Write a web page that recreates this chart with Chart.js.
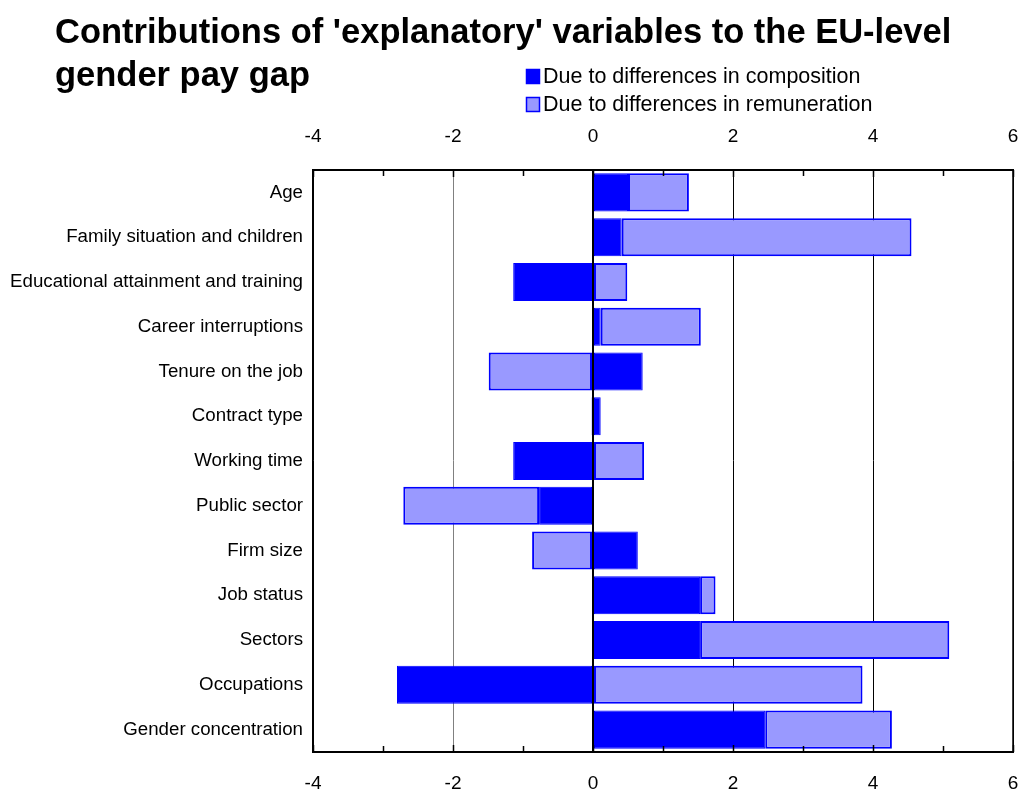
<!DOCTYPE html>
<html>
<head>
<meta charset="utf-8">
<script src="https://cdn.jsdelivr.net/npm/chart.js@4.4.1/dist/chart.umd.min.js"></script>
<style>
  html, body { margin: 0; padding: 0; background: #fff; }
  #wrap { width: 1021px; height: 794px; position: relative; }
</style>
</head>
<body>
<div id="wrap"><canvas id="chart" width="1021" height="794"></canvas></div>
<script>
// data
const categories = [
  'Age',
  'Family situation and children',
  'Educational attainment and training',
  'Career interruptions',
  'Tenure on the job',
  'Contract type',
  'Working time',
  'Public sector',
  'Firm size',
  'Job status',
  'Sectors',
  'Occupations',
  'Gender concentration'
];
const composition  = [0.50, 0.41, -1.14, 0.11, 0.71, 0.11, -1.14, -0.77, 0.64, 1.53, 1.53, -2.80, 2.46];
const remuneration = [0.87, 4.14, 0.49, 1.43, -1.49, -0.02, 0.73, -1.94, -0.87, 0.22, 3.56, 3.85, 1.81];
const xTicks = [-4, -2, 0, 2, 4, 6];

const titleLines = ["Contributions of 'explanatory' variables to the EU-level", 'gender pay gap'];
const legendLabels = ['Due to differences in composition', 'Due to differences in remuneration'];

const FONT = '"Liberation Sans", Arial, Helvetica, sans-serif';

// inward tick marks on top and bottom axes, zero line over the bars, right frame line
const tickMarks = {
  id: 'tickMarks',
  afterDraw(chart) {
    const ctx = chart.ctx;
    const x = chart.scales.x;
    const area = chart.chartArea;
    ctx.save();
    ctx.strokeStyle = '#000';
    ctx.lineWidth = 1.5;
    for (let v = -4; v <= 6; v++) {
      const px = Math.round(x.getPixelForValue(v)) + 0.5;
      const len = v % 2 === 0 ? 7 : 6;
      ctx.beginPath();
      ctx.moveTo(px, area.top);
      ctx.lineTo(px, area.top + len);
      ctx.moveTo(px, area.bottom);
      ctx.lineTo(px, area.bottom - len);
      ctx.stroke();
    }
    ctx.beginPath();
    ctx.moveTo(area.right, area.top);
    ctx.lineTo(area.right, area.bottom);
    ctx.stroke();

    const zero = Math.round(x.getPixelForValue(0));
    ctx.lineWidth = 2;
    ctx.beginPath();
    ctx.moveTo(zero, area.top);
    ctx.lineTo(zero, area.bottom);
    ctx.stroke();
    ctx.restore();
  }
};

// title and legend block
const header = {
  id: 'header',
  afterDraw(chart) {
    const ctx = chart.ctx;
    ctx.save();
    ctx.fillStyle = '#000';
    ctx.textBaseline = 'middle';
    ctx.textAlign = 'left';
    ctx.font = 'bold 34.5px ' + FONT;
    ctx.fillText(titleLines[0], 55, 33);
    ctx.fillText(titleLines[1], 55, 76);

    const fills = ['#0000ff', '#9999ff'];
    const rows = [76, 104];
    ctx.font = '21.5px ' + FONT;
    rows.forEach((y, i) => {
      ctx.fillStyle = fills[i];
      ctx.fillRect(526, y - 7, 14, 15);
      ctx.strokeStyle = '#0000ff';
      ctx.lineWidth = 1.5;
      ctx.strokeRect(526.5, y - 6.5, 13, 14);
      ctx.fillStyle = '#000';
      ctx.fillText(legendLabels[i], 543, y + 1);
    });
    ctx.restore();
  }
};

const noSidePadding = (scale, h) => {
  scale.height = h;
  scale.paddingLeft = 0;
  scale.paddingRight = 0;
};

new Chart(document.getElementById('chart'), {
  type: 'bar',
  data: {
    labels: categories,
    datasets: [
      {
        label: legendLabels[0],
        data: composition,
        backgroundColor: '#0000ff',
        borderColor: '#0000ff',
        borderWidth: 1,
        borderSkipped: false,
        barPercentage: 0.85,
        categoryPercentage: 1
      },
      {
        label: legendLabels[1],
        data: remuneration,
        backgroundColor: '#9999ff',
        borderColor: '#0000ff',
        borderWidth: 2,
        borderSkipped: false,
        barPercentage: 0.85,
        categoryPercentage: 1
      }
    ]
  },
  options: {
    indexAxis: 'y',
    responsive: false,
    animation: false,
    layout: { padding: { top: 120, right: 8, bottom: 0, left: 0 } },
    plugins: {
      legend: { display: false },
      title: { display: false },
      tooltip: { enabled: false }
    },
    scales: {
      x: {
        position: 'bottom',
        stacked: true,
        min: -4,
        max: 6,
        afterBuildTicks(scale) { scale.ticks = xTicks.map(v => ({ value: v })); },
        afterFit(scale) { noSidePadding(scale, 42); },
        ticks: { color: '#000', font: { family: FONT, size: 19 }, padding: 20 },
        grid: {
          drawTicks: false,
          color: ctx => (ctx.tick && ctx.tick.value === -2) ? '#808080' : '#000',
          lineWidth: ctx => (ctx.tick && ctx.tick.value === 0) ? 2 : 1
        },
        border: { display: true, color: '#000', width: 2 }
      },
      x2: {
        position: 'top',
        type: 'linear',
        min: -4,
        max: 6,
        afterBuildTicks(scale) { scale.ticks = xTicks.map(v => ({ value: v })); },
        afterFit(scale) { noSidePadding(scale, 50); },
        ticks: { color: '#000', font: { family: FONT, size: 19 }, padding: 22 },
        grid: { display: false, drawTicks: false },
        border: { display: true, color: '#000', width: 2 }
      },
      y: {
        stacked: true,
        afterFit(scale) { scale.width = 313; },
        ticks: { color: '#000', font: { family: FONT, size: 18.7 }, padding: 10 },
        grid: { display: false, drawTicks: false },
        border: { display: true, color: '#000', width: 1.5 }
      }
    }
  },
  plugins: [tickMarks, header]
});
</script>
</body>
</html>
